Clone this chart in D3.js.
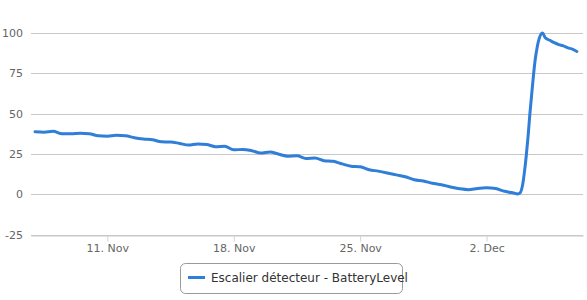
<!DOCTYPE html>
<html lang="en">
<head>
    <meta charset="UTF-8">
    <title>BatteryLevel</title>
    <style>
        body { margin: 0; background: #fff; }
        svg { display: block; }
    </style>
</head>
<body>

<script src="https://d3js.org/d3.v7.min.js"></script>
<script>
    // readings, every 12h mostly, tighter around the battery swap
    var times = [
        "2016-11-07 00:00", "2016-11-07 12:00", "2016-11-08 00:00", "2016-11-08 12:00",
        "2016-11-09 00:00", "2016-11-09 12:00", "2016-11-10 00:00", "2016-11-10 12:00",
        "2016-11-11 00:00", "2016-11-11 12:00", "2016-11-12 00:00", "2016-11-12 12:00",
        "2016-11-13 00:00", "2016-11-13 12:00", "2016-11-14 00:00", "2016-11-14 12:00",
        "2016-11-15 00:00", "2016-11-15 12:00", "2016-11-16 00:00", "2016-11-16 12:00",
        "2016-11-17 00:00", "2016-11-17 12:00", "2016-11-18 00:00", "2016-11-18 12:00",
        "2016-11-19 00:00", "2016-11-19 12:00", "2016-11-20 00:00", "2016-11-20 12:00",
        "2016-11-21 00:00", "2016-11-21 12:00", "2016-11-22 00:00", "2016-11-22 12:00",
        "2016-11-23 00:00", "2016-11-23 12:00", "2016-11-24 00:00", "2016-11-24 12:00",
        "2016-11-25 00:00", "2016-11-25 12:00", "2016-11-26 00:00", "2016-11-26 12:00",
        "2016-11-27 00:00", "2016-11-27 12:00", "2016-11-28 00:00", "2016-11-28 12:00",
        "2016-11-29 00:00", "2016-11-29 12:00", "2016-11-30 00:00", "2016-11-30 12:00",
        "2016-12-01 00:00", "2016-12-01 12:00", "2016-12-02 00:00", "2016-12-02 12:00",
        "2016-12-03 00:00", "2016-12-03 06:00", "2016-12-03 12:00", "2016-12-03 17:00",
        "2016-12-03 20:00", "2016-12-04 00:00", "2016-12-04 02:24", "2016-12-04 04:48",
        "2016-12-04 07:12", "2016-12-04 09:36", "2016-12-04 12:00", "2016-12-04 14:24",
        "2016-12-04 16:48", "2016-12-04 19:12", "2016-12-04 21:36", "2016-12-05 00:00",
        "2016-12-05 02:24", "2016-12-05 06:00", "2016-12-05 12:00", "2016-12-05 18:00",
        "2016-12-06 00:00", "2016-12-06 06:00", "2016-12-06 12:00", "2016-12-06 18:00",
        "2016-12-07 00:00"
    ];
    var levels = [
        38.8, 38.5, 39.0, 37.5,
        37.5, 37.8, 37.5, 36.2,
        36.0, 36.5, 36.3, 35.0,
        34.2, 33.8, 32.5, 32.4,
        31.5, 30.5, 31.2, 30.8,
        29.5, 29.8, 27.5, 27.8,
        27.0, 25.5, 26.2, 24.8,
        23.6, 23.8, 22.2, 22.5,
        20.8, 20.4, 18.8, 17.4,
        17.0, 15.2, 14.3, 13.2,
        12.0, 10.8, 9.0, 8.2,
        6.8, 5.9, 4.5, 3.4,
        2.8, 3.6, 4.0, 3.5,
        1.8, 1.2, 0.8, 0.2,
        0.6, 6.0, 14.0, 24.0,
        36.0, 50.0, 62.0, 74.0,
        84.0, 91.0, 96.0, 99.0,
        100.0, 97.0, 95.5, 94.0,
        92.8, 92.0, 90.8, 90.0,
        88.5
    ];
    var yTicks = [-25, 0, 25, 50, 75, 100];
    var xTickLabels = ["2016-11-11", "2016-11-18", "2016-11-25", "2016-12-02"];
    var seriesName = "Escalier détecteur - BatteryLevel";

    var width = 587, height = 300;
    var margin = {top: 33, right: 4, bottom: 65.5, left: 31};

    var parseTime = d3.timeParse("%Y-%m-%d %H:%M");
    var parseDay = d3.timeParse("%Y-%m-%d");
    var data = times.map(function (t, i) { return {t: parseTime(t), v: levels[i]}; });

    var svg = d3.select("body").append("svg")
        .attr("width", width)
        .attr("height", height)
        .style("font-family", "'DejaVu Sans', Verdana, sans-serif");

    var x = d3.scaleTime()
        .domain([parseTime("2016-11-06 18:35"), parseTime("2016-12-07 08:10")])
        .range([margin.left, width - margin.right]);

    var y = d3.scaleLinear()
        .domain([-25, 100])
        .range([height - margin.bottom, margin.top]);

    // grid lines
    svg.append("g")
        .selectAll("line")
        .data(yTicks)
        .enter()
        .append("line")
        .attr("x1", margin.left)
        .attr("x2", width - margin.right)
        .attr("y1", function (d) { return Math.round(y(d)) + 0.5; })
        .attr("y2", function (d) { return Math.round(y(d)) + 0.5; })
        .attr("stroke", "#c8c8c8")
        .attr("stroke-width", 1);

    // y labels
    svg.append("g")
        .selectAll("text")
        .data(yTicks)
        .enter()
        .append("text")
        .attr("x", 23)
        .attr("y", function (d) { return y(d) + 4; })
        .attr("text-anchor", "end")
        .attr("font-size", "11px")
        .attr("fill", "#666")
        .text(function (d) { return d; });

    // x axis
    var xAxis = d3.axisBottom(x)
        .tickValues(xTickLabels.map(parseDay))
        .tickSizeInner(6)
        .tickSizeOuter(0)
        .tickFormat(function (d) { return d3.timeFormat("%-d")(d) + ". " + d3.timeFormat("%b")(d); });

    var gx = svg.append("g")
        .attr("transform", "translate(0," + (Math.round(y(-25)) + 0.5) + ")")
        .call(xAxis);
    gx.select(".domain").attr("stroke", "#c8c8c8");
    gx.selectAll(".tick line").attr("stroke", "#c8d4e0");
    gx.selectAll(".tick text")
        .attr("y", 9)
        .attr("fill", "#666")
        .attr("font-size", "11px")
        .attr("font-family", "'DejaVu Sans', Verdana, sans-serif");

    // series line
    var line = d3.line()
        .x(function (d) { return x(d.t); })
        .y(function (d) { return y(d.v); })
        .curve(d3.curveMonotoneX);

    svg.append("path")
        .datum(data)
        .attr("d", line)
        .attr("fill", "none")
        .attr("stroke", "#2f7ed8")
        .attr("stroke-width", 3)
        .attr("stroke-linejoin", "round")
        .attr("stroke-linecap", "round");

    // legend
    var legend = svg.append("g");
    legend.append("rect")
        .attr("x", 180.5)
        .attr("y", 263.5)
        .attr("width", 222)
        .attr("height", 30)
        .attr("rx", 5)
        .attr("fill", "#fff")
        .attr("stroke", "#999");
    legend.append("line")
        .attr("x1", 188)
        .attr("x2", 205)
        .attr("y1", 277.5)
        .attr("y2", 277.5)
        .attr("stroke", "#2f7ed8")
        .attr("stroke-width", 3);
    legend.append("text")
        .attr("x", 211)
        .attr("y", 282)
        .attr("font-size", "12px")
        .attr("fill", "#333")
        .text(seriesName);
</script>
</body>
</html>
